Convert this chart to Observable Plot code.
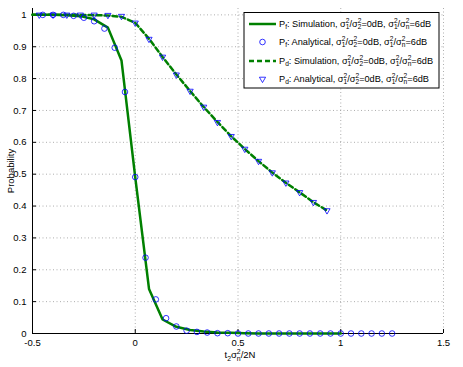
<!DOCTYPE html>
<html>
<head>
<meta charset="utf-8">
<script src="https://cdn.jsdelivr.net/npm/d3@7"></script>
<script src="https://cdn.jsdelivr.net/npm/@observablehq/plot@0.6"></script>
<style>
  html, body { margin: 0; padding: 0; background: #fff; }
  svg { display: block; }
</style>
</head>
<body>
<div id="chart"></div>
<script>
// Tick values
const xTicks = [-0.5, 0, 0.5, 1, 1.5];
const xTickLabels = ["-0.5", "0", "0.5", "1", "1.5"];
const yTicks = [0, 0.1, 0.2, 0.3, 0.4, 0.5, 0.6, 0.7, 0.8, 0.9, 1];
const yTickLabels = ["0", "0.1", "0.2", "0.3", "0.4", "0.5", "0.6", "0.7", "0.8", "0.9", "1"];

// P_f simulation (solid line)
const pfSimX = [-0.5, -0.467, -0.4, -0.333, -0.267, -0.2, -0.133, -0.067, 0, 0.067, 0.133, 0.2, 0.267, 0.333, 0.4, 0.467, 0.533, 0.6, 0.667, 0.733, 0.8, 0.867, 0.933, 1.0];
const pfSimY = [1.0, 1.0, 1.0, 0.999, 0.996, 0.986, 0.96, 0.857, 0.49, 0.14, 0.044, 0.021, 0.011, 0.006, 0.003, 0.002, 0.001, 0, 0, 0, 0, 0, 0, 0];

// P_f analytical (circles)
const pfAnaX = [-0.45, -0.4, -0.35, -0.3, -0.25, -0.2, -0.15, -0.1, -0.05, 0, 0.05, 0.1, 0.15, 0.2, 0.25, 0.3, 0.35, 0.4, 0.45, 0.5, 0.55, 0.6, 0.65, 0.7, 0.75, 0.8, 0.85, 0.9, 0.95, 1.0, 1.05, 1.1, 1.15, 1.2, 1.25];
const pfAnaY = [1.0, 1.0, 1.0, 0.997, 0.991, 0.98, 0.957, 0.897, 0.758, 0.491, 0.238, 0.107, 0.048, 0.022, 0.009, 0.005, 0.003, 0.001, 0.001, 0, 0, 0, 0, 0, 0, 0, 0, 0, 0, 0, 0, 0, 0, 0, 0];

// P_d simulation (dashed line)
const pdSimX = [-0.5, -0.467, -0.4, -0.333, -0.267, -0.2, -0.133, -0.067, 0, 0.067, 0.133, 0.2, 0.267, 0.333, 0.4, 0.467, 0.533, 0.6, 0.667, 0.733, 0.8, 0.867, 0.933];
const pdSimY = [1.0, 1.0, 1.0, 1.0, 1.0, 0.999, 0.998, 0.994, 0.975, 0.925, 0.868, 0.813, 0.761, 0.711, 0.664, 0.619, 0.579, 0.541, 0.505, 0.473, 0.443, 0.412, 0.386];

// P_d analytical (triangles)
const pdAnaX = [-0.467, -0.4, -0.333, -0.267, -0.2, -0.133, -0.067, 0, 0.067, 0.133, 0.2, 0.267, 0.333, 0.4, 0.467, 0.533, 0.6, 0.667, 0.733, 0.8, 0.867, 0.933];
const pdAnaY = [1.0, 1.0, 1.0, 1.0, 1.0, 0.999, 0.996, 0.975, 0.924, 0.868, 0.812, 0.761, 0.711, 0.663, 0.619, 0.579, 0.541, 0.505, 0.473, 0.443, 0.412, 0.386];

const zip = (xs, ys) => xs.map((x, i) => ({x, y: ys[i]}));
const pfSim = zip(pfSimX, pfSimY);
const pfAna = zip(pfAnaX, pfAnaY);
const pdSim = zip(pdSimX, pdSimY);
const pdAna = zip(pdAnaX, pdAnaY);

const GREEN = "#008000";
const BLUE = "#0000ff";
const FONT = "'Liberation Sans', Arial, sans-serif";

const svg = Plot.plot({
  width: 463,
  height: 367,
  marginLeft: 32,
  marginRight: 20,
  marginTop: 8,
  marginBottom: 34,
  style: {fontFamily: FONT, fontSize: "9px", color: "#000", background: "#fff"},
  x: {domain: [-0.5, 1.5]},
  y: {domain: [0, 1.02]},
  marks: [
    Plot.gridX(xTicks, {stroke: "#999", strokeOpacity: 1, strokeDasharray: "1,2.5", strokeWidth: 0.8}),
    Plot.gridY(yTicks, {stroke: "#999", strokeOpacity: 1, strokeDasharray: "1,2.5", strokeWidth: 0.8}),
    Plot.axisX(xTicks, {tickFormat: (d) => xTickLabels[xTicks.indexOf(d)], tickSize: -4, tickPadding: 10, label: null, fill: "#000", fontSize: 9.5}),
    Plot.axisY(yTicks, {tickFormat: (d) => yTickLabels[yTicks.indexOf(d)], tickSize: -4, tickPadding: 10, label: "Probability", labelAnchor: "center", labelArrow: "none", labelOffset: 25, fill: "#000", fontSize: 9.5}),
    Plot.ruleY([0], {stroke: "#000", strokeWidth: 1}),
    Plot.ruleX([-0.5], {stroke: "#000", strokeWidth: 1}),
    Plot.line(pfSim, {x: "x", y: "y", stroke: GREEN, strokeWidth: 2.5}),
    Plot.line(pdSim, {x: "x", y: "y", stroke: GREEN, strokeWidth: 2.5, strokeDasharray: "5,3"}),
    Plot.dot(pfAna, {x: "x", y: "y", r: 2.8, stroke: BLUE, fill: "none", strokeWidth: 0.8}),
    Plot.dot(pdAna, {x: "x", y: "y", r: 2.3, symbol: "triangle", rotate: 180, stroke: BLUE, fill: "none", strokeWidth: 0.8})
  ]
});
document.getElementById("chart").appendChild(svg);

// rich text helper (subscripts, superscripts, stacked pairs)
function rich(sel, x, y, parts, size, anchor) {
  const t = sel.append("text").attr("x", x).attr("y", y)
    .attr("font-size", size).attr("fill", "#000")
    .attr("text-anchor", anchor || "start")
    .attr("font-family", FONT);
  const small = size * 0.72;
  const subOff = size * 0.32, supOff = -size * 0.42;
  let cur = 0;
  for (const p of parts) {
    if (typeof p === "string") {
      t.append("tspan").attr("dy", -cur).text(p); cur = 0;
    } else if (p.sub != null && p.sup != null) {
      t.append("tspan").attr("dy", subOff - cur).attr("font-size", small).text(p.sub); cur = subOff;
      t.append("tspan").attr("dx", -0.556 * small * p.sub.length).attr("dy", supOff - cur).attr("font-size", small).text(p.sup); cur = supOff;
    } else if (p.sub != null) {
      t.append("tspan").attr("dy", subOff - cur).attr("font-size", small).text(p.sub); cur = subOff;
    } else if (p.sup != null) {
      t.append("tspan").attr("dy", supOff - cur).attr("font-size", small).text(p.sup); cur = supOff;
    }
  }
  return t;
}

const root = d3.select(svg);

// x label: t2 σn^2 / 2N
rich(root, 240, 357.5, ["t", {sub: "2"}, "σ", {sub: "n", sup: "2"}, "/2N"], 9.5, "middle");

// legend
const legendX = 244, legendY = 12.5, legendW = 195, legendH = 75.5;
const lg = root.append("g");
lg.append("rect").attr("x", legendX).attr("y", legendY).attr("width", legendW).attr("height", legendH)
  .attr("fill", "#fff").attr("stroke", "#000").attr("stroke-width", 1);

const legendRows = [
  {name: "f", kind: "Simulation", type: "solid"},
  {name: "f", kind: "Analytical", type: "circle"},
  {name: "d", kind: "Simulation", type: "dashed"},
  {name: "d", kind: "Analytical", type: "triangle"}
];
const rowY = [24, 42, 61, 79];
legendRows.forEach((r, i) => {
  const cy = rowY[i];
  if (r.type === "solid" || r.type === "dashed") {
    lg.append("line").attr("x1", 249).attr("x2", 276).attr("y1", cy).attr("y2", cy)
      .attr("stroke", GREEN).attr("stroke-width", 2.5)
      .attr("stroke-dasharray", r.type === "dashed" ? "5,3" : null);
  } else if (r.type === "circle") {
    lg.append("circle").attr("cx", 262.5).attr("cy", cy).attr("r", 2.8)
      .attr("fill", "none").attr("stroke", BLUE).attr("stroke-width", 0.8);
  } else {
    lg.append("path").attr("d", d3.symbol(d3.symbolTriangle, 2.3 * 2.3 * Math.PI)())
      .attr("transform", `translate(262.5,${cy}) rotate(180)`)
      .attr("fill", "none").attr("stroke", BLUE).attr("stroke-width", 0.8);
  }
  rich(lg, 279, cy + 2.5, ["P", {sub: r.name}, ": " + r.kind + ", σ", {sub: "1", sup: "2"}, "/σ", {sub: "2", sup: "2"}, "=0dB, σ", {sub: "1", sup: "2"}, "/σ", {sub: "n", sup: "2"}, "=6dB"], 9.2);
});
</script>
</body>
</html>
